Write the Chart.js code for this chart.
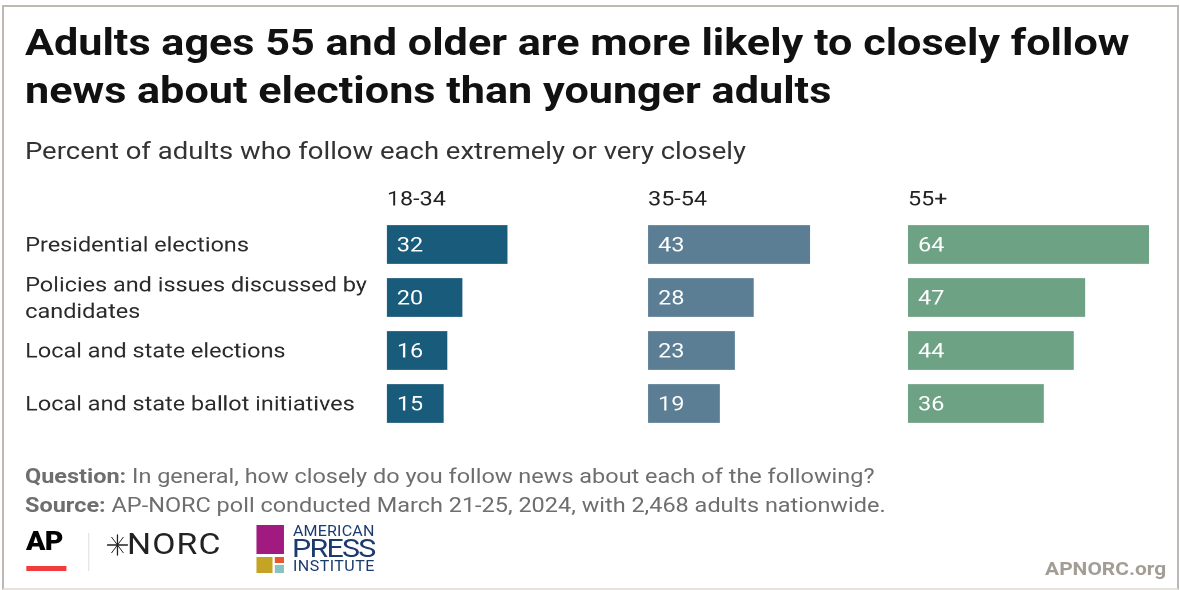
<!DOCTYPE html>
<html><head><meta charset="utf-8">
<script src="https://cdn.jsdelivr.net/npm/chart.js@4.4.1/dist/chart.umd.min.js"></script>
<style>
html,body{margin:0;padding:0;background:#fff;}
body{width:1180px;height:590px;position:relative;overflow:hidden;font-family:Roboto,"Noto Sans",sans-serif;}
#frame{position:absolute;left:2px;top:5px;width:1173px;height:581px;border:2px solid #bdb8b1;border-bottom-color:#e6e3df;}
#page{position:absolute;left:0;top:0;width:1030.57px;height:590px;transform:scaleX(1.145);transform-origin:0 0;}
.t{position:absolute;white-space:nowrap;}
#title{left:21.8px;top:18px;font-size:37.7px;line-height:48px;font-weight:700;color:#111;}
#sub{left:21.8px;top:137px;font-size:24px;line-height:28px;color:#333;}
.foot{left:21.8px;font-size:20.5px;line-height:24px;color:#6e6e6e;}
.foot b{font-weight:700;}
.cv{position:absolute;}
#site{right:12px;top:557px;font-size:18.3px;font-weight:700;color:#a29d95;line-height:24px;}
</style></head><body>
<div id="frame"></div>
<div id="page">
<div class="t" id="title">Adults ages 55 and older are more likely to closely follow<br>news about elections than younger adults</div>
<div class="t" id="sub">Percent of adults who follow each extremely or very closely</div>
<div class="cv" style="left:21.83px;top:170px;width:539.5px;height:260px;"><canvas id="c1"></canvas></div>
<div class="cv" style="left:565.9px;top:170px;width:223.3px;height:260px;"><canvas id="c2"></canvas></div>
<div class="cv" style="left:793.0px;top:170px;width:223.3px;height:260px;"><canvas id="c3"></canvas></div>
<div class="t foot" style="top:463.5px;"><b>Question:</b> In general, how closely do you follow news about each of the following?</div>
<div class="t foot" style="top:492.5px;"><b>Source:</b> AP-NORC poll conducted March 21-25, 2024, with 2,468 adults nationwide.</div>
<!-- logos -->
<div class="t" style="left:22.7px;top:527px;font-size:25px;font-weight:900;color:#000;letter-spacing:-0.6px;line-height:30px;">AP</div>
<div class="t" style="left:22.7px;top:566px;width:35.8px;height:5px;background:#f03c3c;"></div>
<div class="t" style="left:76.9px;top:533px;width:1px;height:38px;background:#e2e2e2;"></div>
<svg class="t" style="left:92.6px;top:534px;" width="19.2" height="22" viewBox="0 0 22 22" preserveAspectRatio="none"><g stroke="#222" stroke-width="1.3" stroke-linecap="round"><line x1="1" y1="11" x2="21" y2="11"/><line x1="11" y1="1" x2="11" y2="21"/></g><g stroke="#222" stroke-width="1.0"><line x1="5" y1="3" x2="17" y2="19"/><line x1="17" y1="3" x2="5" y2="19"/></g></svg>
<div class="t" style="left:110.9px;top:526px;font-size:29.5px;color:#222;line-height:36px;letter-spacing:1px;">NORC</div>
<div class="t" style="left:223.6px;top:525px;width:24.5px;height:29px;background:#a11a7f;"></div>
<div class="t" style="left:223.6px;top:557px;width:14px;height:16px;background:#c4a424;"></div>
<div class="t" style="left:240.2px;top:557px;width:7.9px;height:6px;background:#e8582a;"></div>
<div class="t" style="left:240.2px;top:565px;width:7.9px;height:8px;background:#86c3c2;"></div>
<div class="t" style="left:255.9px;top:523px;font-size:14px;line-height:16px;color:#1b3b6f;letter-spacing:0.15px;">AMERICAN</div>
<div class="t" style="left:255px;top:534px;font-size:26.5px;line-height:28px;color:#1b3b6f;letter-spacing:-1.5px;">PRESS</div>
<div class="t" style="left:255.9px;top:558px;font-size:14px;line-height:16px;color:#1b3b6f;letter-spacing:0.4px;">INSTITUTE</div>
<div class="t" id="site">APNORC.org</div>
</div>
<script>
const categories = ['Presidential elections', ['Policies and issues discussed by', 'candidates'], 'Local and state elections', 'Local and state ballot initiatives'];
const groups = ['18-34', '35-54', '55+'];
const values1834 = [32, 20, 16, 15];
const values3554 = [43, 28, 23, 19];
const values55plus = [64, 47, 44, 36];
const colors = ['#195b7a', '#5b7e94', '#6ea285'];
const series = [values1834, values3554, values55plus];

const valueLabels = {
  id: 'valueLabels',
  afterDatasetsDraw(chart) {
    const ctx = chart.ctx;
    ctx.save();
    ctx.font = '20.5px Roboto';
    ctx.fillStyle = '#ffffff';
    ctx.textAlign = 'left';
    ctx.textBaseline = 'middle';
    chart.data.datasets.forEach((ds, di) => {
      chart.getDatasetMeta(di).data.forEach((bar, i) => {
        ctx.fillText(String(ds.data[i]), Math.min(bar.x, bar.base) + 8.7, bar.y + 2);
      });
    });
    ctx.restore();
  }
};

function makeChart(id, idx, showLabels) {
  new Chart(document.getElementById(id), {
    type: 'bar',
    data: {
      labels: categories,
      datasets: [{
        label: groups[idx],
        data: series[idx],
        backgroundColor: colors[idx],
        borderWidth: 0,
        barThickness: 38
      }]
    },
    options: {
      indexAxis: 'y',
      responsive: true,
      maintainAspectRatio: false,
      animation: false,
      devicePixelRatio: 2,
      events: [],
      layout: { padding: 0 },
      plugins: { legend: { display: false }, tooltip: { enabled: false } },
      scales: {
        x: {
          position: 'top',
          min: 0, max: 68,
          grid: { display: false },
          border: { display: false },
          ticks: { display: false },
          title: {
            display: true, text: groups[idx], align: 'start',
            color: '#222', font: { family: 'Roboto', size: 20.4 },
            padding: { top: 18, bottom: 0 }
          },
          afterFit(scale) { scale.height = 48; scale.paddingLeft = 0; scale.paddingRight = 0; }
        },
        y: {
          display: showLabels,
          grid: { display: false },
          border: { display: false },
          ticks: {
            autoSkip: false,
            crossAlign: 'far',
            color: '#2a2a2a',
            font: { family: 'Roboto', size: 20.5, lineHeight: 1.3 },
            padding: 0,
            labelOffset: 2
          },
          afterFit(scale) {
            if (showLabels) scale.width = 316.2;
            scale.paddingTop = 0;
            scale.paddingBottom = 0;
          }
        }
      }
    },
    plugins: [valueLabels]
  });
}
makeChart('c1', 0, true);
makeChart('c2', 1, false);
makeChart('c3', 2, false);
</script>
</body></html>
